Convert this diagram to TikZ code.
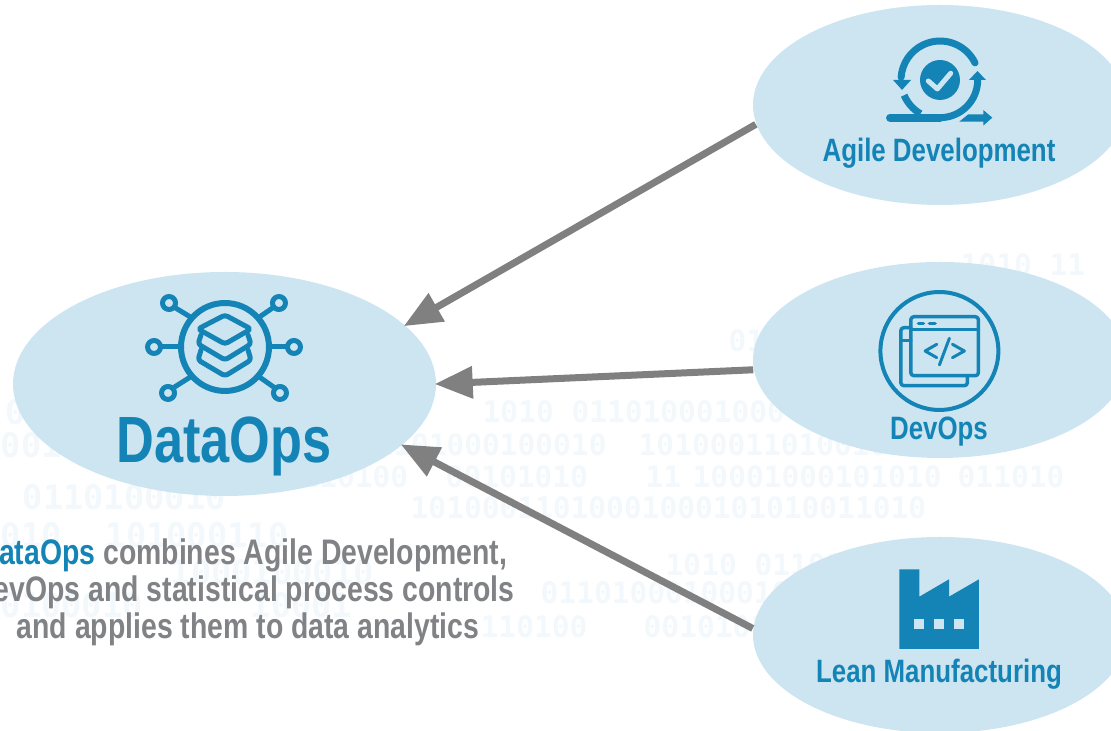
\documentclass[tikz,border=0pt]{standalone}
\usepackage{fontspec}
\setmainfont{Liberation Sans}[FakeStretch=0.8]
\newfontfamily\binfont{DejaVu Sans Mono}
\usepackage{xcolor}
\usetikzlibrary{arrows.meta, positioning, shapes.geometric}
\definecolor{oval}{HTML}{CDE5F1}
\definecolor{ink}{HTML}{1484B6}
\definecolor{wire}{HTML}{808080}
\definecolor{copy}{HTML}{808285}
\definecolor{faint}{HTML}{F2F8FB}

\begin{document}
\begin{tikzpicture}[>={Triangle[length=0.38cm, width=0.31cm]}]
	\tikzstyle{bubble} = [fill=oval, ellipse, inner sep=0pt]
	\tikzstyle{flow} = [->, draw=wire, line width=0.07cm, shorten >=-0.02cm]
	\tikzstyle{bin} = [anchor=west, inner sep=0pt, text=faint, font=\binfont\bfseries\fontsize{9.6}{10}\selectfont]
	\tikzstyle{binsmall} = [bin, font=\binfont\bfseries\fontsize{8.4}{10}\selectfont]
	\tikzstyle{title} = [inner sep=0pt, text=ink, font=\bfseries\fontsize{9.2}{10}\selectfont]
	\tikzstyle{blurb} = [inner sep=0pt, text=copy, font=\bfseries\fontsize{10.1}{11}\selectfont]
	\tikzstyle{icon} = [x=0.01cm, y=-0.01cm, draw=ink, line join=round, line cap=round]

	\useasboundingbox (0,0) rectangle (11.11,7.31);

	\node[bin] at (0.05,3.19) (b1)  {010};
	\node[binsmall] at (4.82,3.19) (b2)  {1010 011010001000};
	\node[bin] at (0.00,2.86) (b3)  {001};
	\node[binsmall] at (3.57,2.86) (b4)  {01101000100010};
	\node[binsmall] at (6.38,2.86) (b5)  {101000110100101};
	\node[binsmall] at (2.83,2.54) (b6)  {0110100};
	\node[binsmall] at (4.45,2.54) (b7)  {00101010};
	\node[binsmall] at (6.45,2.54) (b8)  {11};
	\node[binsmall] at (6.92,2.54) (b9)  {10001000101010};
	\node[binsmall] at (9.57,2.54) (b10) {011010};
	\node[bin] at (0.22,2.34) (b11) {0110100010};
	\node[binsmall] at (4.10,2.23) (b12) {10100011010001000101010011010};
	\node[bin] at (0.00,1.96) (b13) {010};
	\node[bin] at (1.05,1.96) (b14) {101000110};
	\node[bin] at (1.70,1.59) (b15) {1000100010};
	\node[binsmall] at (6.65,1.66) (b16) {1010 01101000010};
	\node[binsmall] at (5.40,1.38) (b17) {01101000100010};
	\node[binsmall] at (8.55,1.38) (b18) {101001};
	\node[bin] at (0.00,1.26) (b19) {0100010};
	\node[bin] at (2.50,1.26) (b20) {10001};
	\node[binsmall] at (4.80,1.04) (b21) {110100};
	\node[binsmall] at (6.43,1.04) (b22) {00101010};
	\node[binsmall] at (8.55,1.04) (b23) {11 100010};
	\node[binsmall] at (7.28,3.90) (b24) {01101};
	\node[binsmall] at (8.10,4.31) (b25) {0110100010001};
	\node[binsmall] at (9.60,4.66) (b26) {1010 11};
	\node[binsmall] at (10.20,3.55) (b27) {0110};

	\node[bubble, minimum width=4.23cm, minimum height=2.24cm] at (2.245,3.47) (dataops) {};
	\node[bubble, minimum width=3.74cm, minimum height=2.00cm] at (9.40,6.26) (agile)   {};
	\node[bubble, minimum width=3.74cm, minimum height=1.96cm] at (9.40,3.71) (devops)  {};
	\node[bubble, minimum width=3.74cm, minimum height=1.96cm] at (9.40,0.96) (lean)    {};

	\path
	(agile.186.8)	edge [flow]	(dataops.18.9)
	(devops.183.4)	edge [flow]	(dataops.-0.3)
	(lean.178.8)	edge [flow]	(dataops.-19.4);

	\node[title, font=\bfseries\fontsize{18.6}{20}\selectfont] at (2.24,2.85) (dataopslabel) {DataOps};
	\node[title] at (9.39,5.78) (agilelabel)  {Agile Development};
	\node[title] at (9.39,2.99) (devopslabel) {DevOps};
	\node[title] at (9.39,0.57) (leanlabel)   {Lean Manufacturing};

	\node[blurb] at (2.43,1.76) (line1) {\textcolor{ink}{DataOps} combines Agile Development,};
	\node[blurb] at (2.44,1.39) (line2) {DevOps and statistical process controls};
	\node[blurb] at (2.48,1.02) (line3) {and applies them to data analytics};

	\begin{scope}[shift={(2.25,3.84)}, icon, line width=0.05cm]
		\draw[line width=0.06cm] (0,0) circle (44);
		\foreach \px/\py in {-56/-44, 54/-44, -71/0, 69/0, -57/46, 55/46} {
			\draw (\px,\py) circle (6.5);
		}
		\draw (-51,-40) -- (-33,-29) (49,-40) -- (33,-29);
		\draw (-64,0) -- (-44,0) (62,0) -- (44,0);
		\draw (-52,41) -- (-33,29) (50,41) -- (33,29);
		\draw[rounded corners=0.03cm] (0,-32) -- (26,-18) -- (0,-3) -- (-27,-18) -- cycle;
		\draw[rounded corners=0.03cm] (-24,-12) -- (-27,-3) -- (0,13) -- (26,-3) -- (23,-12);
		\draw[rounded corners=0.03cm] (-24,3) -- (-27,13) -- (0,29) -- (26,13) -- (23,3);
	\end{scope}

	\begin{scope}[shift={(9.40,6.51)}, icon, line width=0.07cm]
		\fill[ink] (0,0) circle (20);
		\draw[oval, line width=0.05cm] (-11.7,1) -- (-2.7,9) -- (10.7,-6.7);
		\draw[y=0.01cm] (26:39) arc (26:176:39);
		\fill[ink] (-47,0) -- (-29,0) -- (-38,10) -- cycle;
		\draw[y=0.01cm, line cap=butt] (203:39) arc (203:240:39);
		\draw[line width=0.08cm] (-50,37.7) -- (0,37.7);
		\draw[y=0.01cm, line cap=butt] (0,-37.7) arc (270:360:37.7);
		\fill[ink] (29,0) -- (46,0) -- (37.5,-9) -- cycle;
		\fill[ink] (19.3,41.7) -- (28.3,34.3) -- (43.3,34.3) -- (43.3,30) -- (52.3,37.7) -- (43.3,45.7) -- (43.3,41.7) -- cycle;
	\end{scope}

	\begin{scope}[shift={(9.394,3.80)}, icon, line width=0.035cm]
		\draw[line width=0.04cm] (0,0) circle (59);
		\draw[rounded corners=0.03cm] (-28.6,-34.3) rectangle (39,24.7);
		\draw (-28.6,-21.7) -- (39,-21.7);
		\draw (-21,-27.7) -- (-16,-27.7) (-10,-27.7) -- (-4.3,-27.7);
		\draw[rounded corners=0.03cm] (-28.6,-23.3) -- (-38.6,-23.3) -- (-38.6,34.7) -- (28,34.7) -- (28,24.7);
		\draw (-38.6,-10.3) -- (-28.6,-10.3);
		\draw[line width=0.03cm] (-2.6,-6.7) -- (-14.3,0) -- (-2.6,6.7);
		\draw[line width=0.03cm] (13,-6.7) -- (25,0) -- (13,6.7);
		\draw[line width=0.03cm] (10,-12.7) -- (0,14);
	\end{scope}

	\begin{scope}[shift={(9.39,1.22)}, x=0.01cm, y=-0.01cm]
		\fill[ink] (-39.7,-39.7) -- (-19.7,-39.7) -- (-19.7,-12.3) -- (10,-29.7) -- (10,-12.3) -- (40,-29.7) -- (40,40) -- (-39.7,40) -- cycle;
		\fill[oval] (-24.7,10) rectangle (-14.7,20);
		\fill[oval] (-5,10) rectangle (5,20);
		\fill[oval] (15,10) rectangle (25,20);
	\end{scope}
\end{tikzpicture}
\end{document}
